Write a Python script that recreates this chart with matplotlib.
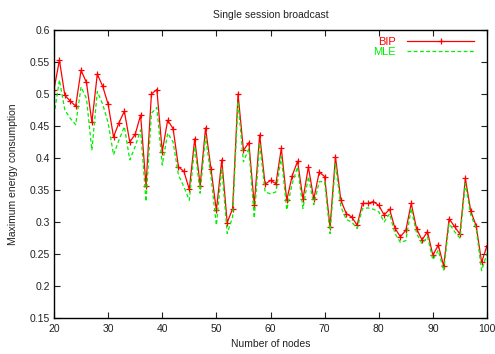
import matplotlib

matplotlib.use("Agg")

import matplotlib.pyplot as plt
import numpy as np

plt.rcParams["font.family"] = ["Liberation Sans", "DejaVu Sans"]

# number of nodes 20..100
nodes = list(range(20, 101))

bip = [
    0.507, 0.553, 0.498, 0.489, 0.481, 0.537, 0.518, 0.456, 0.531, 0.512,  # 20-29
    0.484, 0.433, 0.455, 0.473, 0.425, 0.437, 0.467, 0.357, 0.500, 0.507,  # 30-39
    0.410, 0.459, 0.446, 0.386, 0.379, 0.351, 0.430, 0.357, 0.447, 0.383,  # 40-49
    0.318, 0.397, 0.299, 0.321, 0.500, 0.412, 0.424, 0.327, 0.436, 0.359,  # 50-59
    0.365, 0.360, 0.415, 0.334, 0.372, 0.395, 0.336, 0.386, 0.336, 0.378,  # 60-69
    0.371, 0.292, 0.402, 0.334, 0.313, 0.308, 0.295, 0.329, 0.329, 0.332,  # 70-79
    0.326, 0.311, 0.320, 0.290, 0.277, 0.287, 0.329, 0.289, 0.272, 0.285,  # 80-89
    0.248, 0.264, 0.231, 0.305, 0.293, 0.281, 0.368, 0.317, 0.294, 0.237,  # 90-99
    0.263,                                                                 # 100
]

mle = [
    0.467, 0.522, 0.475, 0.462, 0.452, 0.511, 0.493, 0.412, 0.504, 0.484,  # 20-29
    0.455, 0.405, 0.428, 0.449, 0.397, 0.418, 0.444, 0.332, 0.470, 0.479,  # 30-39
    0.389, 0.439, 0.425, 0.373, 0.355, 0.334, 0.418, 0.345, 0.434, 0.371,  # 40-49
    0.295, 0.384, 0.282, 0.308, 0.488, 0.394, 0.415, 0.306, 0.423, 0.347,  # 50-59
    0.344, 0.347, 0.402, 0.319, 0.360, 0.386, 0.321, 0.371, 0.327, 0.363,  # 60-69
    0.363, 0.282, 0.392, 0.324, 0.304, 0.300, 0.290, 0.321, 0.322, 0.320,  # 70-79
    0.316, 0.300, 0.313, 0.282, 0.268, 0.271, 0.321, 0.282, 0.266, 0.277,  # 80-89
    0.241, 0.256, 0.224, 0.298, 0.285, 0.275, 0.360, 0.311, 0.290, 0.224,  # 90-99
    0.251,                                                                 # 100
]

fig = plt.figure(figsize=(4.95, 3.54), dpi=100)
ax = fig.add_axes([54 / 495, 1 - 318 / 354, 433 / 495, 288 / 354])

ax.plot(nodes, bip, color="#ff0000", lw=0.9, marker="+", ms=4.5, mew=0.9, label="BIP")
ax.plot(nodes, mle, color="#00ee00", lw=0.9, ls=(0, (3, 2)), label="MLE")

ax.set_xlim(20, 100)
ax.set_ylim(0.15, 0.6)
ax.set_xticks(np.arange(20, 101, 10))
ax.set_yticks(np.arange(0.15, 0.601, 0.05))
ax.set_yticklabels([f"{v:g}" for v in np.round(np.arange(0.15, 0.601, 0.05), 2)])
ax.tick_params(direction="in", length=4, width=0.8, labelsize=7.5, colors="#222222",
               top=True, right=True, pad=3)
ax.tick_params(axis="x", pad=4)
for spine in ax.spines.values():
    spine.set_linewidth(1.0)
    spine.set_color("black")

ax.set_xlabel("Number of nodes", fontsize=7.5, color="#222222", labelpad=4)
ax.set_ylabel("Maximum energy consumption", fontsize=7.5, color="#222222", labelpad=8)
ax.set_title("Single session broadcast", fontsize=7.5, color="#222222", pad=9)

leg = ax.legend(loc="upper right", frameon=False, markerfirst=False, fontsize=8,
                handlelength=6.0, handletextpad=1.0, labelspacing=0.05,
                borderaxespad=0.2, bbox_to_anchor=(0.985, 1.0),
                labelcolor="linecolor")

fig.savefig("out.png", dpi=100)
